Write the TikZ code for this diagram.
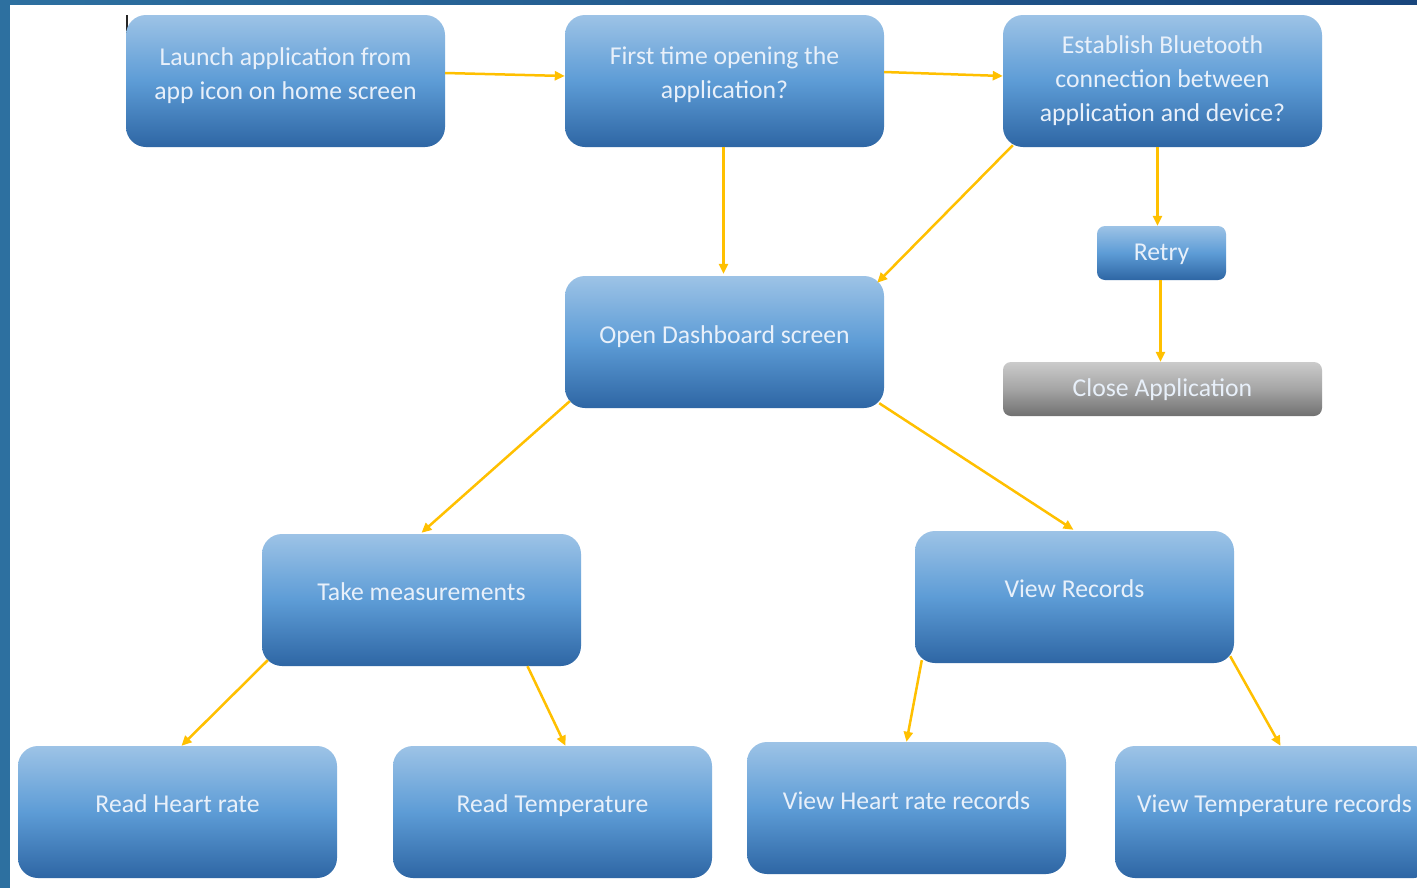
\documentclass[tikz,border=0pt]{standalone}
\usepackage{fontspec}
\setmainfont{Carlito}
\usetikzlibrary{arrows.meta,calc}
\definecolor{frameA}{RGB}{45,112,160}
\definecolor{frameB}{RGB}{25,70,125}
\definecolor{btop}{RGB}{157,195,230}
\definecolor{bmid}{RGB}{93,156,214}
\definecolor{bbot}{RGB}{46,102,164}
\definecolor{gtop}{RGB}{203,203,203}
\definecolor{gmid}{RGB}{165,165,165}
\definecolor{gbot}{RGB}{112,112,112}
\definecolor{arrowc}{RGB}{255,192,0}
\definecolor{txtc}{RGB}{232,240,250}
\begin{document}
\begin{tikzpicture}[x=1pt,y=-1pt,
  bluebox/.style={rounded corners=20pt, top color=btop, bottom color=bbot, middle color=bmid,
    draw=none, minimum width=319pt, minimum height=132pt, inner sep=0pt},
  smallbox/.style={rounded corners=8pt, top color=btop, bottom color=bbot, middle color=bmid,
    draw=none, minimum width=129pt, minimum height=54pt, inner sep=0pt},
  graybox/.style={rounded corners=8pt, top color=gtop, bottom color=gbot, middle color=gmid,
    draw=none, minimum width=319pt, minimum height=54pt, inner sep=0pt},
  txt/.style={text=txtc, align=center, font=\fontsize{25.7pt}{34pt}\selectfont, inner sep=0pt},
  arr/.style={draw=arrowc, line width=2.5pt, -{Triangle[length=10pt,width=9pt]}}
]
\clip (0,0) rectangle (1417,887);
\shade[left color=frameA, right color=frameB] (0,0) rectangle (1417,887);
\fill[white] (10,5) rectangle (1425,895);
\draw[line width=1.5pt, black!85] (127,15) -- (127,50);

% boxes
\node[bluebox] (launch) at (285.5,81) {};
\node[txt] (launchT) at ($(launch.center)+(0,-5)$) {Launch application from\\app icon on home screen};
\node[bluebox] (first) at (724.5,81) {};
\node[txt] (firstT) at ($(first.center)+(0,-6)$) {First time opening the\\application?};
\node[bluebox] (est) at (1162.5,81) {};
\node[txt] (estT) at ($(est.center)+(0,0)$) {Establish Bluetooth\\connection between\\application and device?};
\node[smallbox] (retry) at (1161.5,253) {};
\node[txt] (retryT) at ($(retry.center)+(0,1)$) {Retry};
\node[graybox] (close) at (1162.5,389) {};
\node[txt] (closeT) at ($(close.center)+(0,1)$) {Close Application};
\node[bluebox] (dash) at (724.5,342) {};
\node[txt] (dashT) at ($(dash.center)+(0,-5)$) {Open Dashboard screen};
\node[bluebox] (take) at (421.5,600) {};
\node[txt] (takeT) at ($(take.center)+(0,-8)$) {Take measurements};
\node[bluebox] (rec) at (1074.5,597) {};
\node[txt] (recT) at ($(rec.center)+(0,-8)$) {View Records};
\node[bluebox] (hr) at (177.5,812) {};
\node[txt] (hrT) at ($(hr.center)+(0,-8)$) {Read Heart rate};
\node[bluebox] (temp) at (552.5,812) {};
\node[txt] (tempT) at ($(temp.center)+(0,-6)$) {Read Temperature};
\node[bluebox] (vhr) at (906.5,808) {};
\node[txt] (vhrT) at ($(vhr.center)+(0,-7)$) {View Heart rate records};
\node[bluebox] (vtemp) at (1274.5,812) {};
\node[txt] (vtempT) at ($(vtemp.center)+(0,-6)$) {View Temperature records};

% connectors
\draw[arr] ($(launch.east)+(0,-8)$) -- ($(first.west)+(0,-5)$);
\draw[arr] ($(first.east)+(0,-9)$) -- ($(est.west)+(0,-5)$);
\draw[arr] ($(first.south)+(-1,0)$) -- ($(dash.north)+(-1,-2)$);
\draw[arr] ($(est.south west)+(10,-2)$) -- ($(dash.north east)+(-7,7)$);
\draw[arr] ($(est.south)+(-5,0)$) -- ($(retry.north)+(-4,0)$);
\draw[arr] ($(retry.south)+(-1,0)$) -- ($(close.north)+(-2,0)$);
\draw[arr] ($(dash.south west)+(5,-7)$) -- ($(take.north)+(0,-1)$);
\draw[arr] ($(dash.south east)+(-5,-5)$) -- ($(rec.north)+(-1,-1)$);
\draw[arr] ($(take.south west)+(6,-6)$) -- ($(hr.north)+(4,0)$);
\draw[arr] ($(take.south)+(106,0)$) -- ($(temp.north)+(13,0)$);
\draw[arr] ($(rec.south west)+(7,-3)$) -- ($(vhr.north)+(0,0)$);
\draw[arr] ($(rec.south east)+(-4,-7)$) -- ($(vtemp.north)+(6,0)$);
\end{tikzpicture}
\end{document}
